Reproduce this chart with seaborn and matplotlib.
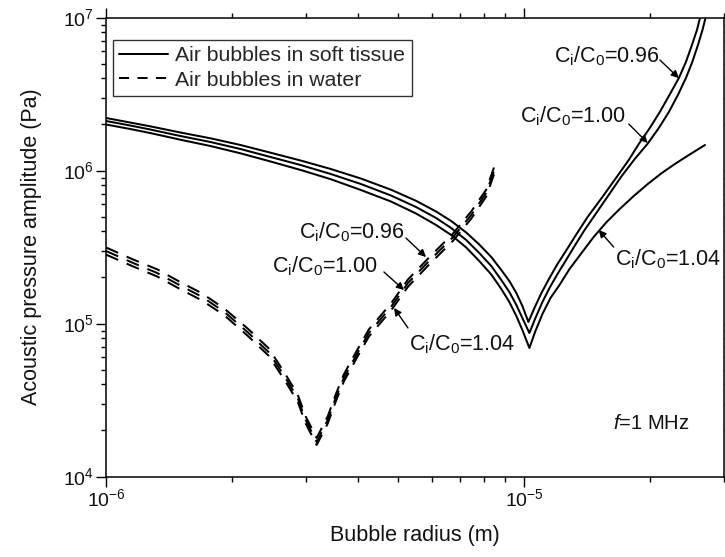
import matplotlib
matplotlib.use("Agg")
import matplotlib.pyplot as plt
from matplotlib.lines import Line2D
from matplotlib.ticker import LogLocator, NullFormatter
import seaborn as sns

# ---------------- data ----------------
# Air bubbles in soft tissue, branch below resonance (radius in m, shared)
tissue_left_r = [1.000e-6, 1.142e-6, 1.275e-6, 1.505e-6, 1.776e-6, 2.096e-6,
                 2.474e-6, 2.919e-6, 3.445e-6, 4.065e-6, 4.798e-6, 5.508e-6,
                 6.151e-6, 6.683e-6, 7.260e-6, 7.800e-6, 8.334e-6, 8.807e-6,
                 9.205e-6, 9.568e-6, 9.890e-6]
tissue_096_left = [2.204e6, 2.059e6, 1.945e6, 1.772e6, 1.624e6, 1.468e6,
                   1.307e6, 1.162e6, 1.023e6, 8.866e5, 7.491e5, 6.339e5,
                   5.395e5, 4.677e5, 3.933e5, 3.284e5, 2.720e5, 2.237e5,
                   1.896e5, 1.583e5, 1.302e5]
tissue_100_left = [2.106e6, 1.969e6, 1.854e6, 1.681e6, 1.536e6, 1.382e6,
                   1.225e6, 1.086e6, 9.487e5, 8.163e5, 6.865e5, 5.773e5,
                   4.893e5, 4.209e5, 3.513e5, 2.890e5, 2.376e5, 1.924e5,
                   1.607e5, 1.321e5, 1.086e5]
tissue_104_left = [1.998e6, 1.868e6, 1.758e6, 1.590e6, 1.446e6, 1.295e6,
                   1.145e6, 1.008e6, 8.773e5, 7.457e5, 6.272e5, 5.235e5,
                   4.404e5, 3.788e5, 3.139e5, 2.561e5, 2.091e5, 1.681e5,
                   1.382e5, 1.119e5, 9.068e4]

# Soft tissue: resonance minimum and branch above resonance
tissue_096_right_r = [1.0223e-5, 1.0568e-5, 1.0984e-5, 1.1481e-5, 1.1999e-5,
                      1.2610e-5, 1.3327e-5, 1.4162e-5, 1.5300e-5, 1.6621e-5,
                      1.7759e-5, 1.8766e-5, 1.9941e-5, 2.1073e-5, 2.2148e-5,
                      2.3405e-5, 2.4327e-5, 2.5146e-5, 2.5851e-5, 2.6283e-5,
                      2.6575e-5]
tissue_096_right = [1.023e5, 1.263e5, 1.583e5, 1.983e5, 2.448e5,
                    3.023e5, 3.846e5, 4.967e5, 6.611e5, 9.068e5,
                    1.171e6, 1.490e6, 1.896e6, 2.412e6, 3.068e6,
                    4.024e6, 5.118e6, 6.611e6, 8.285e6, 9.925e6,
                    1.12e7]
tissue_100_right_r = [1.0280e-5, 1.0627e-5, 1.1045e-5, 1.1481e-5, 1.1999e-5,
                      1.2541e-5, 1.3180e-5, 1.3929e-5, 1.4801e-5, 1.5903e-5,
                      1.7086e-5, 1.8356e-5, 1.9722e-5, 2.0957e-5, 2.2148e-5,
                      2.3276e-5, 2.4327e-5, 2.5146e-5, 2.5994e-5, 2.6648e-5,
                      2.7096e-5, 2.7395e-5]
tissue_100_right = [8.668e4, 1.086e5, 1.382e5, 1.706e5, 2.106e5,
                    2.561e5, 3.210e5, 4.084e5, 5.196e5, 6.917e5,
                    9.206e5, 1.189e6, 1.501e6, 1.896e6, 2.412e6,
                    3.115e6, 4.024e6, 5.042e6, 6.611e6, 8.285e6,
                    9.925e6, 1.12e7]
tissue_104_right_r = [1.0280e-5, 1.0627e-5, 1.1045e-5, 1.1545e-5, 1.2132e-5,
                      1.2821e-5, 1.3700e-5, 1.4639e-5, 1.5728e-5, 1.6899e-5,
                      1.8255e-5, 1.9722e-5, 2.1307e-5, 2.2893e-5, 2.4734e-5,
                      2.7019e-5]
tissue_104_right = [6.917e4, 8.933e4, 1.154e5, 1.468e5, 1.785e5,
                    2.271e5, 2.890e5, 3.676e5, 4.607e5, 5.602e5,
                    6.813e5, 8.163e5, 9.631e5, 1.103e6, 1.263e6,
                    1.468e6]

# Air bubbles in water (radius in m, shared)
water_r = [1.000e-6, 1.161e-6, 1.325e-6, 1.497e-6, 1.699e-6, 1.919e-6,
           2.178e-6, 2.446e-6, 2.658e-6, 2.871e-6, 3.001e-6, 3.188e-6,
           3.388e-6, 3.541e-6, 3.701e-6, 3.955e-6, 4.249e-6, 4.798e-6,
           5.270e-6, 5.886e-6, 6.756e-6, 7.464e-6, 8.106e-6, 8.474e-6]
water_096 = [3.14e5, 2.62e5, 2.26e5, 1.88e5, 1.57e5, 1.25e5,
             9.30e4, 6.90e4, 4.87e4, 3.44e4, 2.47e4, 1.785e4,
             2.47e4, 3.44e4, 4.64e4, 6.47e4, 9.15e4, 1.35e5,
             1.94e5, 2.66e5, 3.88e5, 5.40e5, 7.50e5, 1.06e6]
water_100 = [2.978e5, 2.486e5, 2.139e5, 1.785e5, 1.490e5, 1.189e5,
             8.80e4, 6.51e4, 4.61e4, 3.26e4, 2.34e4, 1.681e4,
             2.34e4, 3.26e4, 4.40e4, 6.13e4, 8.67e4, 1.282e5,
             1.840e5, 2.523e5, 3.676e5, 5.12e5, 7.13e5, 1.008e6]
water_104 = [2.82e5, 2.36e5, 2.03e5, 1.69e5, 1.41e5, 1.13e5,
             8.34e4, 6.17e4, 4.37e4, 3.09e4, 2.22e4, 1.607e4,
             2.22e4, 3.09e4, 4.17e4, 5.81e4, 8.22e4, 1.215e5,
             1.74e5, 2.39e5, 3.48e5, 4.85e5, 6.76e5, 9.55e5]

ratio_labels = ["C$_i$/C$_0$=0.96", "C$_i$/C$_0$=1.00", "C$_i$/C$_0$=1.04"]
legend_labels = ["Air bubbles in soft tissue", "Air bubbles in water"]

# ---------------- style ----------------
sns.set_style("ticks")
plt.rcParams["font.family"] = ["Liberation Sans", "DejaVu Sans"]
plt.rcParams["mathtext.fontset"] = "custom"
plt.rcParams["mathtext.rm"] = "Liberation Sans"
plt.rcParams["mathtext.it"] = "Liberation Sans:italic"
plt.rcParams["mathtext.bf"] = "Liberation Sans:bold"
plt.rcParams["mathtext.default"] = "regular"
plt.rcParams["axes.unicode_minus"] = False

fig = plt.figure(figsize=(7.25, 5.57), dpi=100)
ax = fig.add_axes([106 / 725, 80.5 / 557, 618 / 725, 459 / 557])
ax.set_xscale("log")
ax.set_yscale("log")

solid_kw = dict(color="black", linewidth=1.45, estimator=None, sort=False)
dash_kw = dict(color="black", linewidth=1.45, estimator=None, sort=False,
               linestyle=(0, (6.6, 4.6)))

# soft tissue curves: one continuous line per ratio
for lx, ly, rx, ry in [
    (tissue_left_r, tissue_096_left, tissue_096_right_r, tissue_096_right),
    (tissue_left_r, tissue_100_left, tissue_100_right_r, tissue_100_right),
    (tissue_left_r, tissue_104_left, tissue_104_right_r, tissue_104_right),
]:
    sns.lineplot(x=lx + rx, y=ly + ry, ax=ax, **solid_kw)

# water curves
for wy in [water_096, water_100, water_104]:
    sns.lineplot(x=water_r, y=wy, ax=ax, **dash_kw)

ax.set_xlim(1e-6, 3e-5)
ax.set_ylim(1e4, 1e7)

# ---------------- axes & ticks ----------------
for s in ax.spines.values():
    s.set_linewidth(1.1)
    s.set_color("black")
    s.set_visible(True)
ax.xaxis.set_minor_locator(LogLocator(base=10, subs=range(2, 10)))
ax.yaxis.set_minor_locator(LogLocator(base=10, subs=range(2, 10)))
ax.xaxis.set_minor_formatter(NullFormatter())
ax.yaxis.set_minor_formatter(NullFormatter())
ax.tick_params(which="both", direction="out", top=True, right=True,
               color="black", width=1.0, labelsize=14, labelcolor="#111111")
ax.tick_params(which="major", length=7, pad=1.5)
ax.tick_params(which="minor", length=3.6)

ax.set_xlabel("Bubble radius (m)", fontsize=15.5, labelpad=11, color="#111111")
ax.set_ylabel("Acoustic pressure amplitude (Pa)", fontsize=15.5, labelpad=15,
              color="#111111")

# ---------------- legend ----------------
handles = [
    Line2D([], [], color="black", linewidth=1.45),
    Line2D([], [], color="black", linewidth=1.45, linestyle=(0, (5.0, 4.2))),
]
leg = ax.legend(handles, legend_labels, loc="upper left",
                bbox_to_anchor=(0.011, 0.951), fontsize=15.3, frameon=True,
                fancybox=False, edgecolor="black", handlelength=2.3,
                handletextpad=0.35, borderpad=0.3, labelspacing=0.25,
                borderaxespad=0.0)
leg.get_frame().set_linewidth(1.0)

# ---------------- annotations ----------------
arrow = dict(arrowstyle="-|>", color="black", lw=1.0, mutation_scale=11,
             shrinkA=0, shrinkB=0)
notes = [
    # label, text position, arrow tail, arrow head
    (ratio_labels[0], (1.174e-5, 5.12e6), (2.108e-5, 5.275e6), (2.34e-5, 4.02e6)),
    (ratio_labels[1], (9.78e-6, 2.075e6), (1.776e-5, 2.013e6), (1.972e-5, 1.512e6)),
    (ratio_labels[2], (1.644e-5, 2.41e5), (1.635e-5, 3.16e5), (1.505e-5, 4.085e5)),
    (ratio_labels[0], (2.887e-6, 3.62e5), (5.21e-6, 3.62e5), (5.82e-6, 2.72e5)),
    (ratio_labels[1], (2.50e-6, 2.171e5), (4.617e-6, 2.171e5), (5.155e-6, 1.656e5)),
    (ratio_labels[2], (5.30e-6, 6.71e4), (5.27e-6, 9.35e4), (4.88e-6, 1.263e5)),
]
for text, tpos, tail, head in notes:
    ax.text(tpos[0], tpos[1], text, fontsize=15.5, ha="left", va="baseline",
            color="#111111")
    ax.annotate("", xy=head, xytext=tail, arrowprops=arrow)

ax.text(1.626e-5, 2.044e4, "$\\mathit{f}$=1 MHz", fontsize=14.5, ha="left",
        va="baseline", color="#111111")

fig.savefig("out.png", dpi=100)
